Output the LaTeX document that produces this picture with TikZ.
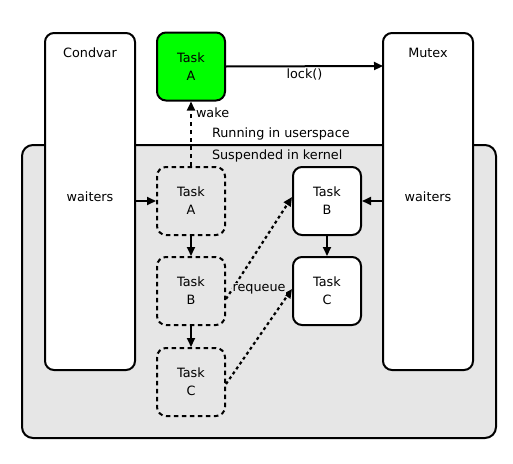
\documentclass[tikz,border=0pt]{standalone}
\usepackage{fontspec}
\setmainfont{DejaVu Sans}
\usetikzlibrary{arrows.meta}
\definecolor{kgray}{HTML}{E6E6E6}
\definecolor{tgreen}{HTML}{00FF00}
\begin{document}
\begin{tikzpicture}[x=1pt,y=-1pt,
  every node/.style={font=\fontsize{12.8}{15}\selectfont, inner sep=0pt},
  line width=2pt,
  tip/.style={-{Triangle[length=9pt,width=8pt]}},
  box/.style={draw, rounded corners=9pt, fill=white},
  taskbox/.style={draw, rounded corners=9pt, minimum width=68pt, minimum height=68pt, align=center},
  dtask/.style={taskbox, dash pattern=on 4.5pt off 3.5pt},
  stask/.style={taskbox, fill=white},
  req/.style={tip, dash pattern=on 3pt off 3pt, line width=2.2pt}]
\useasboundingbox (0,0) rectangle (513,463);
% kernel region
\draw[fill=kgray, rounded corners=11pt] (22,145) rectangle (496,438);
% condvar and mutex columns
\draw[box] (45,33) rectangle (135,370);
\draw[box] (383,33) rectangle (473,370);
\node (condvar) at (90,53) {Condvar};
\node (cwait) at (90,197) {waiters};
\node (mutex) at (428,53) {Mutex};
\node (mwait) at (428,197) {waiters};
\coordinate (ce) at (135,201);
\coordinate (mw) at (383,201);
\coordinate (me) at (383,66);
% tasks
\node[taskbox, fill=tgreen] (ta) at (191,66.5) {Task\\[3pt]A};
\node[dtask] (da) at (191,201) {Task\\[3pt]A};
\node[dtask] (db) at (191,291) {Task\\[3pt]B};
\node[dtask] (dc) at (191,382) {Task\\[3pt]C};
\node[stask] (sb) at (327,201) {Task\\[3pt]B};
\node[stask] (sc) at (327,291) {Task\\[3pt]C};
% labels
\node[anchor=west] (run) at (211,134) {Running in userspace};
\node[anchor=west] (sus) at (211,156) {Suspended in kernel};
% arrows
\draw[tip] (ta.east) -- node[below=2pt, pos=0.5] (lock) {lock()} (me);
\draw[tip, dash pattern=on 4.5pt off 3.5pt] (da.north) -- node[right=4pt, pos=0.82] (wake) {wake} (ta.south);
\draw[tip] (ce) -- (da.west);
\draw[tip] (mw) -- (sb.east);
\draw[tip] (da.south) -- (db.north);
\draw[tip] (db.south) -- (dc.north);
\draw[tip] (sb.south) -- (sc.north);
\draw[req] ([yshift=-8pt]db.east) -- ([yshift=4pt]sb.west);
\draw[req] ([yshift=-2pt]dc.east) -- ([yshift=2pt]sc.west);
\node[fill=kgray, inner sep=1pt] (requeue) at (259,289) {requeue};
\end{tikzpicture}
\end{document}
